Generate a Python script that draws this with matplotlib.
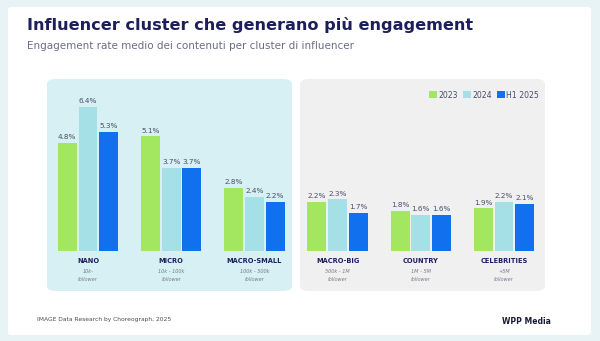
import matplotlib.pyplot as plt
from matplotlib.patches import FancyBboxPatch, Patch
import numpy as np

clusters = ['NANO', 'MICRO', 'MACRO-SMALL', 'MACRO-BIG', 'COUNTRY', 'CELEBRITIES']
ranges = ['10k-', '10k - 100k', '100k - 500k', '500k - 1M', '1M - 5M', '+5M']
years = ['2023', '2024', 'H1 2025']
er_2023 = [4.8, 5.1, 2.8, 2.2, 1.8, 1.9]
er_2024 = [6.4, 3.7, 2.4, 2.3, 1.6, 2.2]
er_2025 = [5.3, 3.7, 2.2, 1.7, 1.6, 2.1]

colors = ['#a3e660', '#a6e0e7', '#1170ee']
navy = '#1c1f5c'

W, H = 600, 341
fig = plt.figure(figsize=(W / 100, H / 100), dpi=100)
fig.patch.set_facecolor('#e8f3f5')


def box(x0, y0, x1, y1, color, r, z):
    # pixel coords measured from the top-left corner
    p = FancyBboxPatch((x0 / W, 1 - y1 / H), (x1 - x0) / W, (y1 - y0) / H,
                       boxstyle='round,pad=0,rounding_size=%f' % (r / W),
                       transform=fig.transFigure, facecolor=color,
                       edgecolor='none', zorder=z)
    fig.patches.append(p)


box(8, 7, 591, 335, 'white', 4, -3)
box(47, 79, 292, 291, '#d6f0f3', 9, -2)
box(300, 79, 545, 291, '#f0f0f1', 9, -2)

fig.text(27 / W, 1 - 25 / H, 'Influencer cluster che generano più engagement',
         fontsize=11.6, fontweight='bold', color=navy, va='center')
fig.text(27 / W, 1 - 46 / H, 'Engagement rate medio dei contenuti per cluster di influencer',
         fontsize=7.5, color='#6b6d85', va='center')

# bars share one axis; x spacing is uniform across both panels
ax = fig.add_axes([46.4 / W, 1 - 251 / H, 499.2 / W, 157.5 / H])
ax.set_zorder(2)
ax.patch.set_alpha(0)
ax.set_xlim(-0.5, 5.5)
ax.set_ylim(0, 7)
ax.axis('off')

x = np.arange(len(clusters))
w = 0.228
step = 0.249
for i, (vals, c) in enumerate(zip([er_2023, er_2024, er_2025], colors)):
    xs = x + (i - 1) * step
    ax.bar(xs, vals, width=w, color=c, zorder=2)
    for xi, v in zip(xs, vals):
        ax.text(xi, v + 0.12, ('%.1f%%' % v), ha='center', va='bottom',
                fontsize=5.2, color='#4a4c6a')

for xi, name, rng in zip(x, clusters, ranges):
    ax.text(xi, -0.45, name, ha='center', va='center', fontsize=4.8,
            fontweight='bold', color=navy, clip_on=False)
    ax.text(xi, -0.9, rng, ha='center', va='center', fontsize=3.6,
            style='italic', color='#7a7a8a', clip_on=False)
    ax.text(xi, -1.25, 'follower', ha='center', va='center', fontsize=3.6,
            style='italic', color='#7a7a8a', clip_on=False)

handles = [Patch(facecolor=c, label=y) for c, y in zip(colors, years)]
leg = fig.legend(handles=handles, loc='center right', ncol=3, frameon=False,
                 bbox_to_anchor=(546 / W, 1 - 95 / H), fontsize=5.6,
                 handlelength=1.0, handleheight=1.0, handletextpad=0.15,
                 columnspacing=0.7, labelcolor='#4a4c6a')
leg.set_zorder(3)

fig.text(37 / W, 1 - 319 / H, 'IMAGE Data Research by Choreograph, 2025',
         fontsize=4.3, color='#4a4a55', va='center')
fig.text(551 / W, 1 - 322 / H, 'WPP Media', fontsize=5.5, fontweight='bold',
         color='#1b1b3a', va='center', ha='right')

fig.savefig('out.png', dpi=100, facecolor=fig.get_facecolor())
